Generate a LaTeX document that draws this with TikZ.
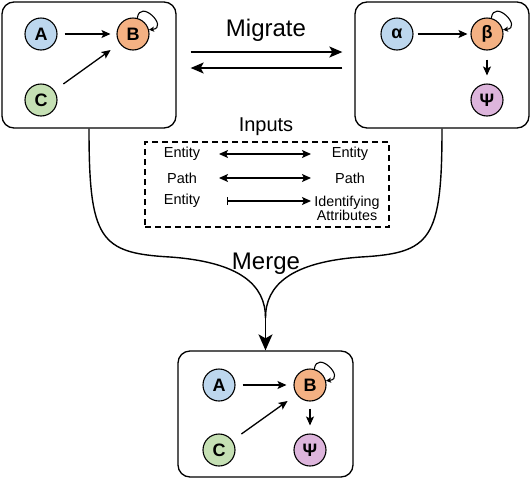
\documentclass[tikz,border=0pt]{standalone}
\usepackage{fontspec}
\setmainfont{Liberation Sans}
\usetikzlibrary{arrows.meta}
\definecolor{cblue}{HTML}{BDD7EE}
\definecolor{corange}{HTML}{F4B183}
\definecolor{cgreen}{HTML}{C5E0B4}
\definecolor{cpurple}{HTML}{DDB5DC}
\begin{document}
\begin{tikzpicture}[x=1pt,y=-1pt,
  panel/.style={draw, line width=1.3pt, rounded corners=12pt, minimum width=174pt, minimum height=126pt, inner sep=0pt},
  vert/.style={circle, draw, line width=1.1pt, minimum size=32pt, inner sep=0pt, font=\fontsize{18}{20}\selectfont\bfseries},
  small/.style={font=\fontsize{14.5}{16}\selectfont, inner sep=0pt},
  big/.style={font=\fontsize{24}{28}\selectfont, inner sep=0pt},
  arr/.style={line width=1.3pt, -{Stealth[length=9pt,width=8pt,inset=2pt]}},
  loop/.style={line width=1.1pt, -{Stealth[length=5pt,width=5pt,inset=1pt]}},
  biarr/.style={line width=1.3pt, {Stealth[length=9pt,width=8pt,inset=2pt]}-{Stealth[length=9pt,width=8pt,inset=2pt]}},
  barr/.style={line width=1.3pt, {Bar[width=8pt]}-{Stealth[length=9pt,width=8pt,inset=2pt]}},
  migr/.style={line width=1.6pt, -{Stealth[length=13pt,width=11pt,inset=3pt]}},
  curve/.style={line width=1.4pt}
]
\useasboundingbox (0,0) rectangle (531,480);

% panels
\node[panel] (L) at (89,65) {};
\node[panel] (R) at (442,65) {};
\node[panel, minimum width=175pt] (M) at (265.5,414) {};

% left panel
\node[vert, fill=cblue] (A1) at (41,34) {A};
\node[vert, fill=corange] (B1) at (133,34) {B};
\node[vert, fill=cgreen] (C1) at (41,100) {C};
\draw[arr, shorten <=7pt, shorten >=6pt] (A1) -- (B1);
\draw[arr, shorten <=11pt, shorten >=11pt] (C1) -- (B1);
\draw[loop] (B1.75) .. controls +(3,-20) and +(20,-2) .. (B1.15);

% right panel
\node[vert, fill=cblue] (A2) at (397,34) {α};
\node[vert, fill=corange] (B2) at (487,34) {β};
\node[vert, fill=cpurple] (P2) at (487,100) {Ψ};
\draw[arr, shorten <=4pt, shorten >=3pt] (A2) -- (B2);
\draw[arr, shorten <=9pt, shorten >=8pt] (B2) -- (P2);
\draw[loop] (B2.75) .. controls +(3,-20) and +(20,-2) .. (B2.15);

% bottom panel
\node[vert, fill=cblue] (A3) at (219,385) {A};
\node[vert, fill=corange] (B3) at (310,385) {B};
\node[vert, fill=cgreen] (C3) at (219,450) {C};
\node[vert, fill=cpurple] (P3) at (310,450) {Ψ};
\draw[arr, shorten <=7pt, shorten >=7pt] (A3) -- (B3);
\draw[arr, shorten <=11pt, shorten >=11pt] (C3) -- (B3);
\draw[arr, shorten <=7pt, shorten >=8pt] (B3) -- (P3);
\draw[loop] (B3.75) .. controls +(3,-20) and +(20,-2) .. (B3.15);

% migrate
\node[big] (mig) at (266,30) {Migrate};
\draw[migr] ([xshift=14pt,yshift=13pt]L.east) -- ([xshift=-12pt,yshift=13pt]R.west);
\draw[migr] ([xshift=-12pt,yshift=-3pt]R.west) -- ([xshift=14pt,yshift=-3pt]L.east);

% inputs
\node[font=\fontsize{20}{24}\selectfont, inner sep=0pt] (inp) at (266,127) {Inputs};
\node[draw, dash pattern=on 6pt off 4pt, line width=1.2pt, minimum width=244pt, minimum height=85pt, inner sep=0pt] (box) at (267,184.5) {};
\node[small] (e1) at (182,154) {Entity};
\node[small] (e2) at (350,154) {Entity};
\node[small] (p1) at (182,178) {Path};
\node[small] (p2) at (350,178) {Path};
\node[small] (e3) at (182,201) {Entity};
\node[small, align=center, font=\fontsize{14.3}{14}\selectfont] (ia) at (347,208) {Identifying\\Attributes};
\coordinate (a1l) at (219,154); \coordinate (a1r) at (311,154);
\coordinate (a2l) at (219,178); \coordinate (a2r) at (311,178);
\coordinate (a3l) at (227,201); \coordinate (a3r) at (311,201);
\draw[biarr] (a1l) -- (a1r);
\draw[biarr] (a2l) -- (a2r);
\draw[barr] (a3l) -- (a3r);

% merge
\coordinate (mp) at (265.5,318);
\draw[curve] (L.south) .. controls (89,240) and (100,253) .. (170,257) .. controls (240,262) and (265.5,285) .. (mp);
\draw[curve] (R.south) .. controls (442,240) and (431,253) .. (361,257) .. controls (291,262) and (265.5,285) .. (mp);
\draw[line width=1.4pt, -{Stealth[length=16pt,width=14pt,inset=4pt]}] (mp) -- (M.north);
\node[big] (mer) at (266,264) {Merge};
\end{tikzpicture}
\end{document}
